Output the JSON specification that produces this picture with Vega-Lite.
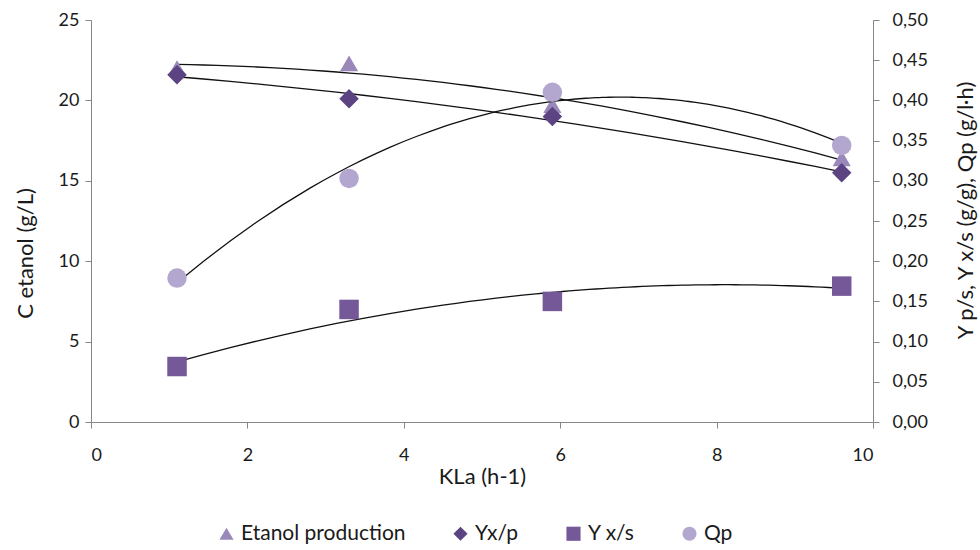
{
  "$schema": "https://vega.github.io/schema/vega-lite/v6.json",
  "width": 782,
  "height": 402,
  "autosize": "none",
  "padding": {"left": 91, "top": 20, "right": 107, "bottom": 128},
  "background": "white",
  "config": {
    "font": "Lato",
    "view": {"stroke": null},
    "locale": {"number": {"decimal": ",", "thousands": ".", "grouping": [3], "currency": ["", "€"]}},
    "axis": {
      "grid": false,
      "domainColor": "#868686",
      "tickColor": "#868686",
      "tickSize": 6,
      "labelFontSize": 18,
      "labelColor": "#1a1a1a",
      "titleFontSize": 22,
      "titleFontWeight": "normal",
      "titleColor": "#1a1a1a",
      "labelFont": "Lato",
      "titleFont": "Lato"
    },
    "legend": {"labelFont": "Lato", "labelFontSize": 21, "labelColor": "#1a1a1a"}
  },
  "data": {
    "values": [
      {"kla": 1.1, "series": "Etanol production", "left": 22.0},
      {"kla": 3.3, "series": "Etanol production", "left": 22.3},
      {"kla": 5.9, "series": "Etanol production", "left": 19.7},
      {"kla": 9.6, "series": "Etanol production", "left": 16.4},
      {"kla": 1.1, "series": "Yx/p", "right": 0.432},
      {"kla": 3.3, "series": "Yx/p", "right": 0.402},
      {"kla": 5.9, "series": "Yx/p", "right": 0.380},
      {"kla": 9.6, "series": "Yx/p", "right": 0.310},
      {"kla": 1.1, "series": "Y x/s", "right": 0.069},
      {"kla": 3.3, "series": "Y x/s", "right": 0.140},
      {"kla": 5.9, "series": "Y x/s", "right": 0.150},
      {"kla": 9.6, "series": "Y x/s", "right": 0.169},
      {"kla": 1.1, "series": "Qp", "right": 0.179},
      {"kla": 3.3, "series": "Qp", "right": 0.303},
      {"kla": 5.9, "series": "Qp", "right": 0.410},
      {"kla": 9.6, "series": "Qp", "right": 0.344}
    ]
  },
  "encoding": {
    "x": {
      "field": "kla", "type": "quantitative",
      "scale": {"domain": [0, 10], "nice": false},
      "axis": {"values": [0, 2, 4, 6, 8, 10], "title": "KLa (h-1)", "labelPadding": 18, "titlePadding": 2}
    }
  },
  "layer": [
    {
      "transform": [{"filter": "datum.series === 'Etanol production'"}],
      "layer": [
        {
          "transform": [{"regression": "left", "on": "kla", "method": "poly", "order": 2, "extent": [1.1, 9.6]}],
          "mark": {"type": "line", "color": "#111111", "strokeWidth": 1.3},
          "encoding": {
            "x": {"field": "kla", "type": "quantitative"},
            "y": {"field": "left", "type": "quantitative"}
          }
        },
        {
          "mark": {"type": "point", "filled": true, "opacity": 1, "size": 330},
          "encoding": {
            "y": {
              "field": "left", "type": "quantitative",
              "scale": {"domain": [0, 25], "nice": false},
              "axis": {"values": [0, 5, 10, 15, 20, 25], "title": "C etanol (g/L)", "orient": "left", "labelPadding": 6, "titleX": -66, "titleY": 233, "titleAngle": 270, "titleBaseline": "middle", "titleAlign": "center"}
            },
            "color": {
              "field": "series", "type": "nominal",
              "scale": {"domain": ["Etanol production", "Yx/p", "Y x/s", "Qp"], "range": ["#9a88ba", "#5c4382", "#745898", "#b4a7cf"]},
              "legend": {"title": null, "orient": "none", "legendX": 125, "legendY": 503, "direction": "horizontal", "columnPadding": 44, "symbolSize": 200, "labelOffset": 4, "labelLimit": 300}
            },
            "shape": {
              "field": "series", "type": "nominal",
              "scale": {"domain": ["Etanol production", "Yx/p", "Y x/s", "Qp"], "range": ["triangle-up", "diamond", "square", "circle"]}
            }
          }
        }
      ]
    },
    {
      "transform": [{"filter": "datum.series !== 'Etanol production'"}],
      "layer": [
        {
          "transform": [{"regression": "right", "on": "kla", "groupby": ["series"], "method": "poly", "order": 2, "extent": [1.1, 9.6]}],
          "mark": {"type": "line", "color": "#111111", "strokeWidth": 1.3},
          "encoding": {
            "x": {"field": "kla", "type": "quantitative"},
            "y": {"field": "right", "type": "quantitative"},
            "detail": {"field": "series", "type": "nominal"}
          }
        },
        {
          "mark": {"type": "point", "filled": true, "opacity": 1, "size": 380},
          "encoding": {
            "y": {
              "field": "right", "type": "quantitative",
              "scale": {"domain": [0, 0.5], "nice": false},
              "axis": {"values": [0, 0.05, 0.1, 0.15, 0.2, 0.25, 0.3, 0.35, 0.4, 0.45, 0.5], "format": ".2f", "title": "Y p/s, Y x/s (g/g), Qp (g/l·h)", "orient": "right", "labelPadding": 13, "titleX": 92, "titleY": 190, "titleAngle": 270, "titleBaseline": "middle", "titleAlign": "center"}
            },
            "color": {
              "field": "series", "type": "nominal",
              "scale": {"domain": ["Etanol production", "Yx/p", "Y x/s", "Qp"], "range": ["#9a88ba", "#5c4382", "#745898", "#b4a7cf"]}
            },
            "shape": {
              "field": "series", "type": "nominal",
              "scale": {"domain": ["Etanol production", "Yx/p", "Y x/s", "Qp"], "range": ["triangle-up", "diamond", "square", "circle"]}
            }
          }
        }
      ]
    }
  ],
  "resolve": {"scale": {"y": "independent"}}
}
